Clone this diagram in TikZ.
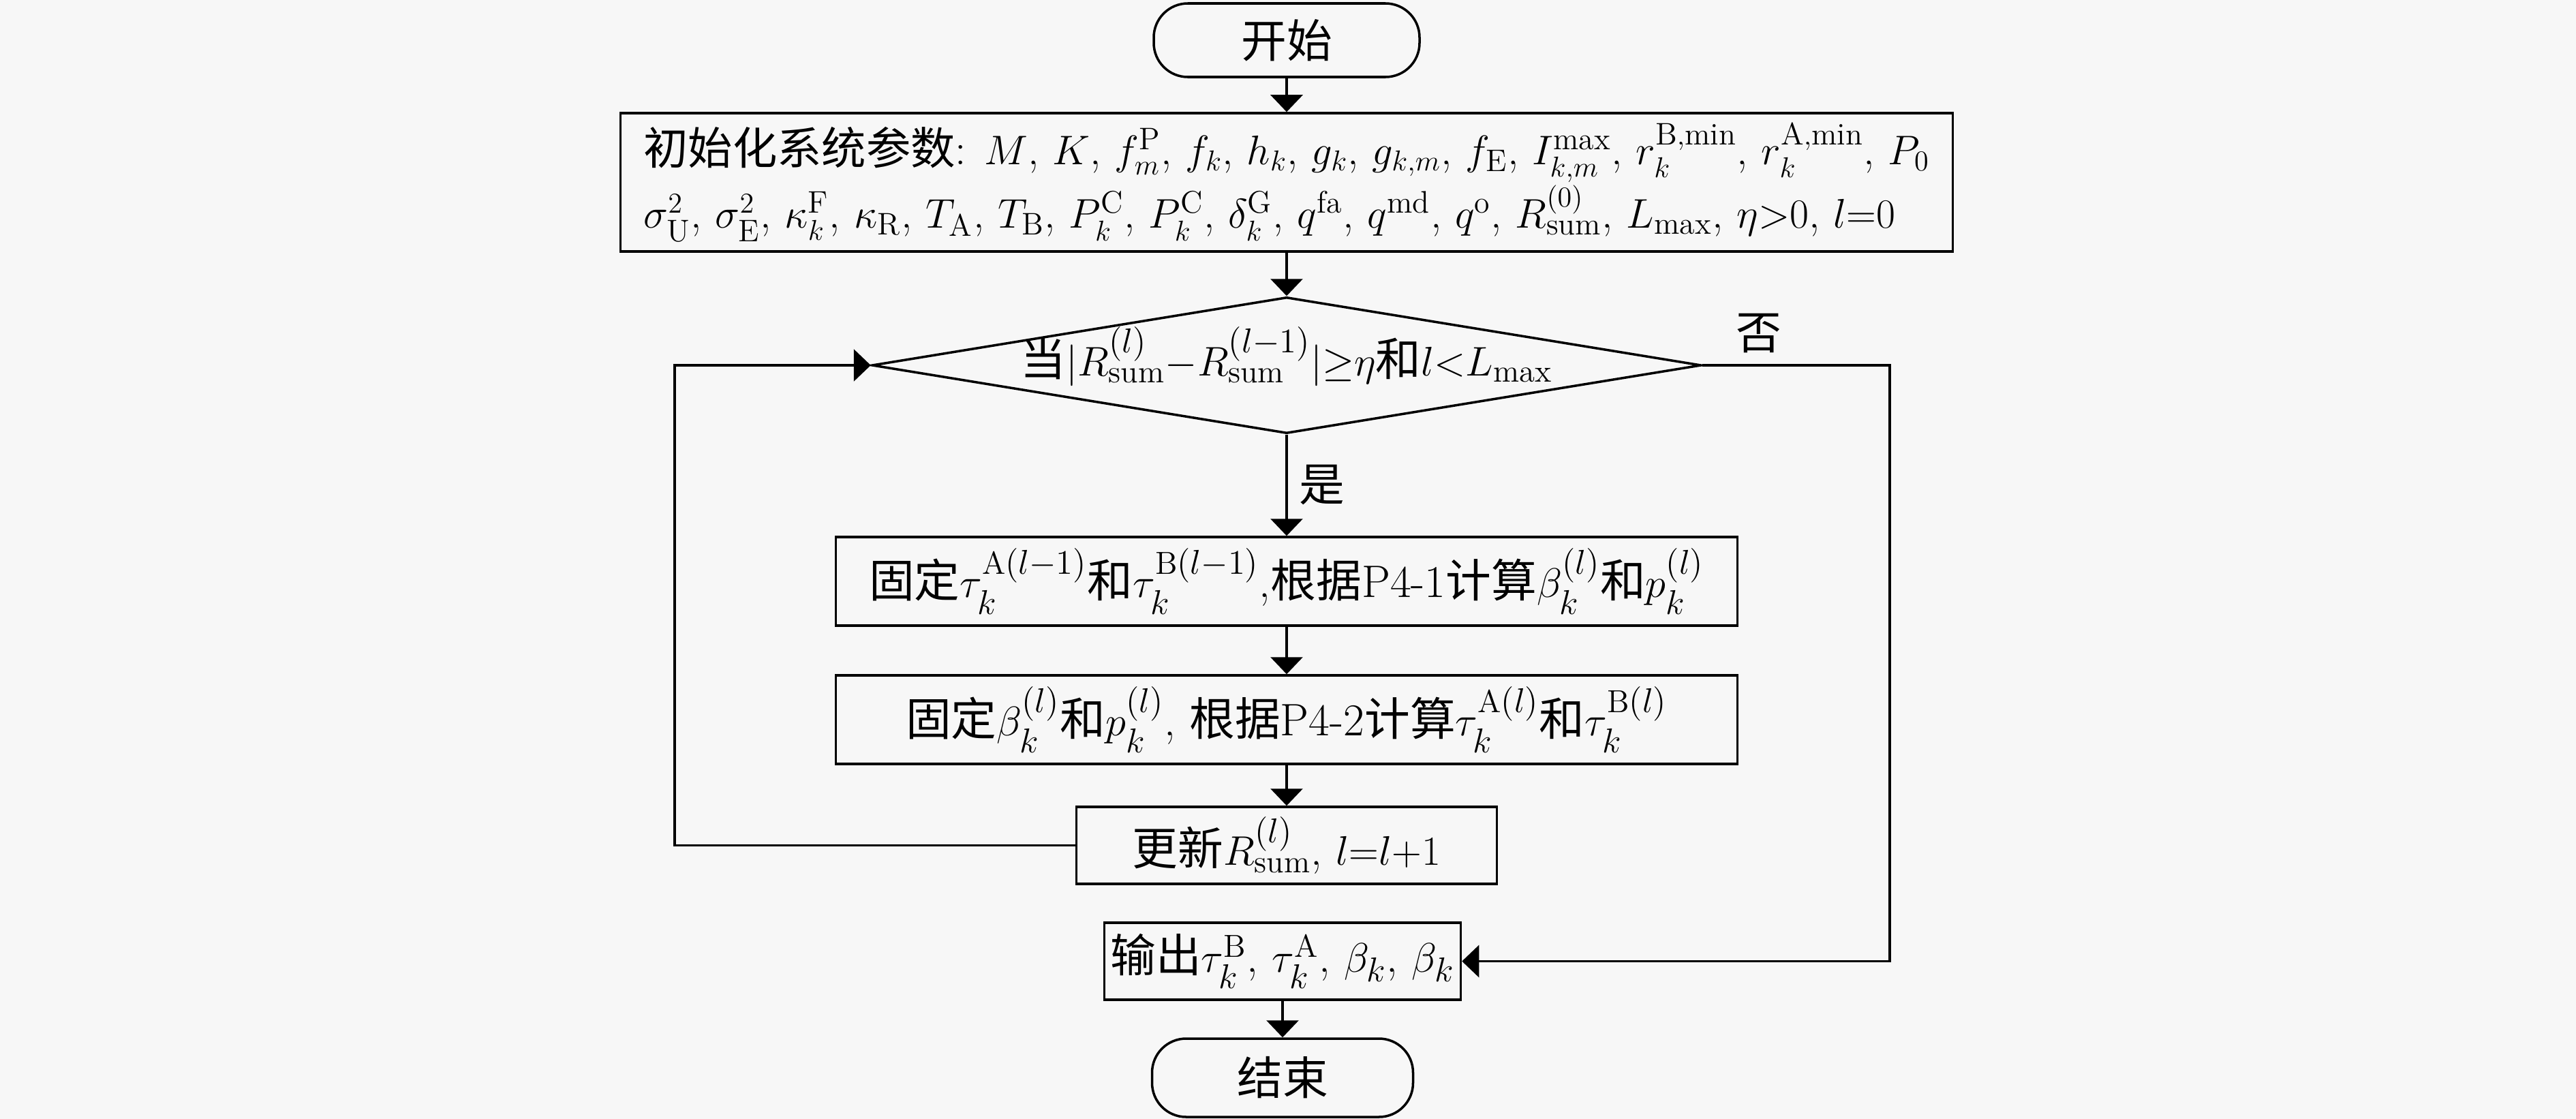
\documentclass[tikz,border=0pt]{standalone}
\usepackage{fontspec}
\newfontfamily\cjk{Noto Sans CJK SC}
\usetikzlibrary{shapes.geometric, positioning, arrows.meta}
\usepackage{amsmath}
\usepackage{amssymb}
\definecolor{bg}{RGB}{247,247,247}

\begin{document}
\begin{tikzpicture}[node distance=2cm,on grid,
  box/.style={draw,line width=1pt,fill=bg,inner sep=0pt,font=\fontsize{19}{24.5}\selectfont},
  term/.style={box,rounded corners=0.5cm,minimum width=3.9cm,minimum height=1.08cm},
  proc/.style={box,minimum height=1.3cm},
  cond/.style={box,diamond,aspect=10,text height=0.35cm,text depth=0.05cm,
    minimum width=12.17cm,minimum height=2cm},
  lbl/.style={font=\fontsize{19}{24.5}\selectfont\cjk},
  arr/.style={-{Triangle[length=0.25cm,width=0.47cm]},line width=0.9pt}]

\fill[bg] (0,0) rectangle (37.8,-16.42);
\useasboundingbox (0,0) rectangle (37.8,-16.42);

\node[term] (start) at (18.88,-0.59) {{\cjk 开始}};
\node[proc,minimum width=19.55cm,minimum height=2.03cm,align=left,
  font=\fontsize{18.6}{24.5}\selectfont] (init) [below=2.085cm of start]
  {{\cjk 初始化系统参数}: $M$, $K$, $f_m^{\mathrm{P}}$, $f_k$, $h_k$, $g_k$, $g_{k,m}$, $f_{\mathrm{E}}$, $I_{k,m}^{\max}$, $r_k^{\mathrm{B,min}}$, $r_k^{\mathrm{A,min}}$, $P_0$\\
  $\sigma_{\mathrm{U}}^2$, $\sigma_{\mathrm{E}}^2$, $\kappa_k^{\mathrm{F}}$, $\kappa_{\mathrm{R}}$, $T_{\mathrm{A}}$, $T_{\mathrm{B}}$, $P_k^{\mathrm{C}}$, $P_k^{\mathrm{C}}$, $\delta_k^{\mathrm{G}}$, $q^{\mathrm{fa}}$, $q^{\mathrm{md}}$, $q^{\mathrm{o}}$, $R_{\mathrm{sum}}^{(0)}$, $L_{\max}$, $\eta{>}0$, $l{=}0$};
\node[cond] (dec) [below=2.685cm of init]
  {{\cjk 当}$|R_{\mathrm{sum}}^{(l)}{-}R_{\mathrm{sum}}^{(l-1)}|{\geq}\eta${\cjk 和}$l{<}L_{\max}$};
\node[proc,minimum width=13.23cm] (upd1) [below=3.17cm of dec]
  {{\cjk 固定}$\tau_k^{\mathrm{A}(l-1)}${\cjk 和}$\tau_k^{\mathrm{B}(l-1)}$,{\cjk 根据}P4-1{\cjk 计算}$\beta_k^{(l)}${\cjk 和}$p_k^{(l)}$};
\node[proc,minimum width=13.23cm] (upd2) [below=2.03cm of upd1]
  {{\cjk 固定}$\beta_k^{(l)}${\cjk 和}$p_k^{(l)}$, {\cjk 根据}P4-2{\cjk 计算}$\tau_k^{\mathrm{A}(l)}${\cjk 和}$\tau_k^{\mathrm{B}(l)}$};
\node[proc,minimum width=6.17cm,minimum height=1.13cm] (upd3) [below=1.845cm of upd2]
  {{\cjk 更新}$R_{\mathrm{sum}}^{(l)}$, $l{=}l{+}1$};
\node[proc,minimum width=5.23cm,minimum height=1.13cm] (out) [below=1.7cm of upd3,xshift=-0.06cm]
  {{\cjk 输出}$\tau_k^{\mathrm{B}}$, $\tau_k^{\mathrm{A}}$, $\beta_k$, $\beta_k$};
\node[term,minimum width=3.83cm,minimum height=1.15cm] (stop) [below=1.71cm of out] {{\cjk 结束}};

\coordinate (loopL) at (9.9,-12.4);
\coordinate (loopR) at (27.73,-5.36);

\draw[arr] (start) -- (init);
\draw[arr] (init) -- (dec);
\draw[arr] (dec) -- node[lbl,right=0.05cm] {是} (upd1);
\draw[arr] (upd1) -- (upd2);
\draw[arr] (upd2) -- (upd3);
\draw[arr] (upd3.west) -- (upd3.west -| loopL) |- (dec.west);
\draw[arr] (dec.east) -- node[lbl,above=0.05cm,pos=0.3] {否} (dec.east -| loopR) |- (out.east);
\draw[arr] (out) -- (stop);
\end{tikzpicture}
\end{document}
